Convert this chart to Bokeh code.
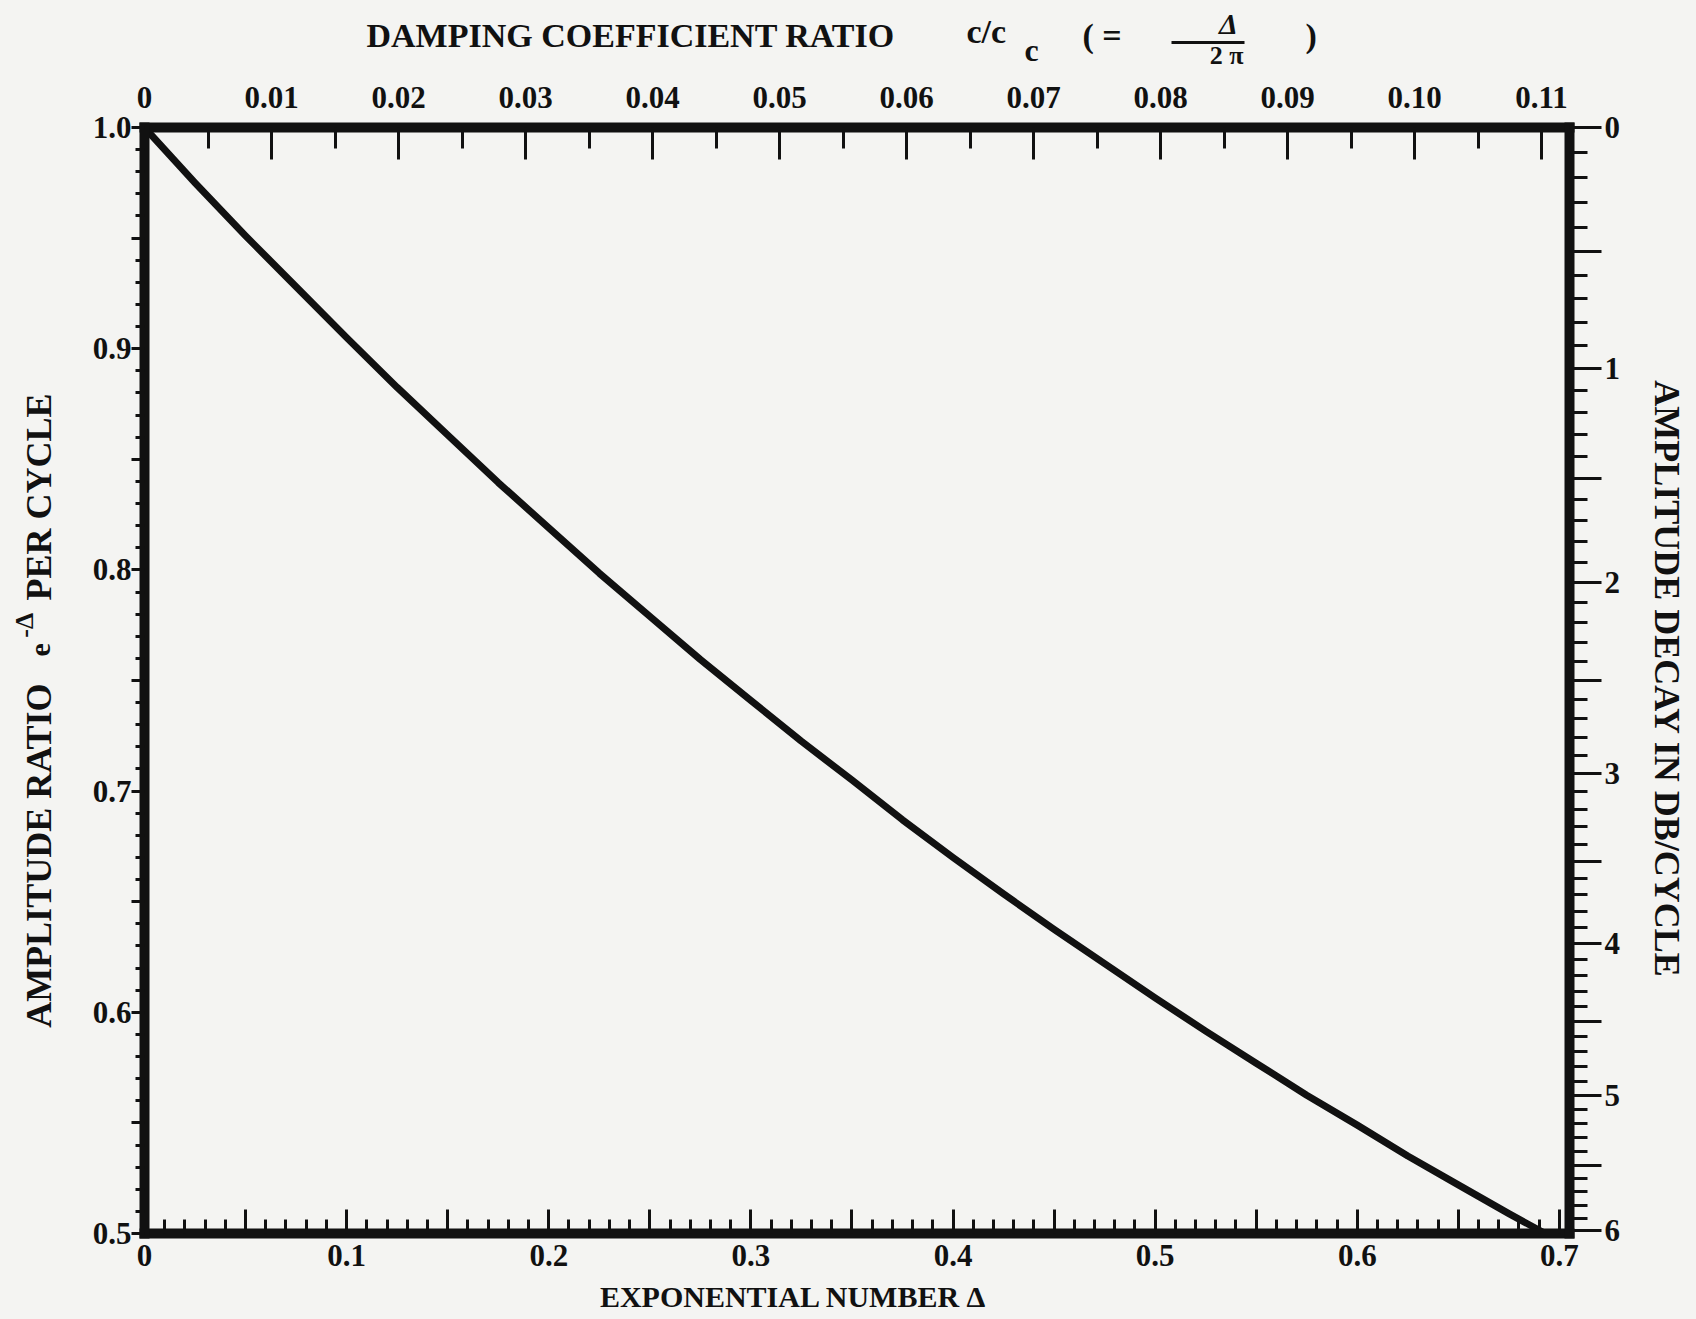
import math
from bokeh.plotting import figure
from bokeh.layouts import column, row
from bokeh.models import Range1d, LinearAxis, FixedTicker
from bokeh.core.properties import value
from bokeh.embed import file_html
from bokeh.resources import INLINE

# ---- data ----
delta = [0.0, 0.025, 0.05, 0.075, 0.10, 0.125, 0.15, 0.175, 0.20, 0.225, 0.25, 0.275,
         0.30, 0.325, 0.35, 0.375, 0.40, 0.425, 0.45, 0.475, 0.50, 0.525, 0.55, 0.575,
         0.60, 0.625, 0.65, 0.675, 0.693]
amp_ratio = [1.000, 0.975, 0.951, 0.928, 0.905, 0.8825, 0.861, 0.8395, 0.819, 0.7985, 0.779, 0.7595,
             0.741, 0.7225, 0.705, 0.687, 0.670, 0.6535, 0.6375, 0.622, 0.6065, 0.5915, 0.577, 0.5625,
             0.549, 0.535, 0.522, 0.509, 0.500]

bottom_tick_values = [0.0, 0.1, 0.2, 0.3, 0.4, 0.5, 0.6, 0.7]
bottom_tick_labels = ["0", "0.1", "0.2", "0.3", "0.4", "0.5", "0.6", "0.7"]
top_tick_values = [0.0, 0.01, 0.02, 0.03, 0.04, 0.05, 0.06, 0.07, 0.08, 0.09, 0.10, 0.11]
top_tick_labels = ["0", "0.01", "0.02", "0.03", "0.04", "0.05", "0.06", "0.07", "0.08", "0.09", "0.10", "0.11"]
left_tick_values = [0.5, 0.6, 0.7, 0.8, 0.9, 1.0]
left_tick_labels = ["0.5", "0.6", "0.7", "0.8", "0.9", "1.0"]
right_db_values = [0, 1, 2, 3, 4, 5, 6]
right_db_labels = ["0", "1", "2", "3", "4", "5", "6"]

# ---- page geometry (canvas pixels) ----
W, H = 1696, 1319
TOP_H = 70
BOT_Y0 = 1279
MID_H = BOT_Y0 - TOP_H
BOT_H = H - BOT_Y0
LW, RW = 76, 62
MAIN_W = W - LW - RW
FL, FR, FT, FB = 144, 1569, 127, 1233    # frame edges on the canvas
X_END = 0.705

INK = "#111111"
PAPER = "#f4f4f2"
SERIF = "Liberation Serif"

# ---- main plot ----
p = figure(width=MAIN_W, height=MID_H, output_backend="svg", toolbar_location=None,
           x_range=Range1d(0, X_END), y_range=Range1d(0.5, 1.0),
           min_border_left=FL - LW, min_border_right=(W - RW) - FR,
           min_border_top=FT - TOP_H, min_border_bottom=BOT_Y0 - FB,
           background_fill_color=PAPER, border_fill_color=PAPER,
           x_axis_location=None, y_axis_location=None, outline_line_color=None)
p.xgrid.visible = False
p.ygrid.visible = False
p.extra_x_ranges = {"cc": Range1d(0, X_END / (2 * math.pi))}


def style(ax, size="31px"):
    ax.axis_line_color = INK
    ax.axis_line_width = 10
    ax.axis_line_cap = "square"
    ax.major_tick_line_color = INK
    ax.minor_tick_line_color = INK
    ax.major_tick_line_width = 3
    ax.minor_tick_line_width = 3
    ax.major_label_text_font = SERIF
    ax.major_label_text_font_style = "bold"
    ax.major_label_text_font_size = size
    ax.major_label_text_color = INK
    ax.major_label_orientation = "horizontal"


# bottom axis: exponential number
b_major = [round(i * 0.05, 2) for i in range(15)]
b_minor = [round(i * 0.01, 2) for i in range(71)]
b_over = {t: "" for t in b_major}
for v, s in zip(bottom_tick_values, bottom_tick_labels):
    b_over[round(v, 2)] = s
bax = LinearAxis(ticker=FixedTicker(ticks=b_major, minor_ticks=b_minor),
                 major_label_overrides=b_over)
style(bax)
bax.major_tick_in, bax.major_tick_out = 24, 0
bax.minor_tick_in, bax.minor_tick_out = 14, 0
bax.major_label_standoff = 11
p.add_layout(bax, "below")

# top axis: damping coefficient ratio c/cc = delta / 2 pi
t_major = [round(v, 3) for v in top_tick_values]
t_minor = [round(i * 0.005, 3) for i in range(23)]
tax = LinearAxis(x_range_name="cc", ticker=FixedTicker(ticks=t_major, minor_ticks=t_minor),
                 major_label_overrides={round(v, 3): s for v, s in zip(top_tick_values, top_tick_labels)})
style(tax)
tax.major_tick_in, tax.major_tick_out = 32, 0
tax.minor_tick_in, tax.minor_tick_out = 21, 0
tax.major_label_standoff = 20
p.add_layout(tax, "above")

# left axis: amplitude ratio
l_major = [round(0.5 + i * 0.05, 2) for i in range(11)]
l_minor = [round(0.5 + i * 0.01, 2) for i in range(51)]
l_over = {t: "" for t in l_major}
for v, s in zip(left_tick_values, left_tick_labels):
    l_over[round(v, 2)] = s
lax = LinearAxis(ticker=FixedTicker(ticks=l_major, minor_ticks=l_minor),
                 major_label_overrides=l_over)
style(lax)
lax.major_tick_in, lax.major_tick_out = 0, 13
lax.minor_tick_in, lax.minor_tick_out = 0, 9
lax.major_label_standoff = 0
p.add_layout(lax, "left")


# right axis: amplitude decay in dB per cycle (ratio = 10^(-dB/20))
def db_to_ratio(d):
    return 10 ** (-d / 20.0)


r_major = [db_to_ratio(i * 0.5) for i in range(13)]
r_minor = [db_to_ratio(round(i * 0.1, 1)) for i in range(61)]
r_over = {t: "" for t in r_major}
for d, s in zip(right_db_values, right_db_labels):
    r_over[db_to_ratio(d * 1.0)] = s
rax = LinearAxis(ticker=FixedTicker(ticks=r_major, minor_ticks=r_minor),
                 major_label_overrides=r_over)
style(rax)
rax.major_tick_in, rax.major_tick_out = 0, 32
rax.minor_tick_in, rax.minor_tick_out = 0, 18
rax.major_label_standoff = 3
p.add_layout(rax, "right")

# the curve
p.line(delta, amp_ratio, line_color=INK, line_width=7, line_join="round", line_cap="round")


# ---- text panels around the plot ----
def aux(w, h):
    f = figure(width=w, height=h, x_range=Range1d(0, w), y_range=Range1d(0, h),
               min_border=0, toolbar_location=None, output_backend="svg",
               background_fill_color=PAPER, border_fill_color=PAPER,
               x_axis_location=None, y_axis_location=None, outline_line_color=None)
    f.xgrid.visible = False
    f.ygrid.visible = False
    return f


top = aux(W, TOP_H)
left = aux(LW, MID_H)
right = aux(RW, MID_H)
bottom = aux(W, BOT_H)


def put(f, x0, y0, h, text, x, y, size, align="left", angle=0.0, fstyle="bold"):
    # x, y are canvas pixel positions; (x0, y0) is the panel's top-left corner on the canvas
    f.text(x=[x - x0], y=[y0 + h - y], text=[text], text_font=value(SERIF),
           text_font_style=fstyle, text_font_size=size, text_color=INK,
           text_align=align, text_baseline="middle", angle=angle)


# top title: DAMPING COEFFICIENT RATIO  c/c_c  ( = delta / 2 pi )
put(top, 0, 0, TOP_H, "DAMPING COEFFICIENT RATIO", 366, 35, "34px")
put(top, 0, 0, TOP_H, "c/c", 966, 31, "34px")
put(top, 0, 0, TOP_H, "c", 1024, 49, "32px")
put(top, 0, 0, TOP_H, "( =", 1082, 35, "34px")
put(top, 0, 0, TOP_H, "Δ", 1228, 23, "30px", align="center", fstyle="bold italic")
put(top, 0, 0, TOP_H, "2 π", 1226, 55, "26px", align="center")
put(top, 0, 0, TOP_H, ")", 1305, 35, "34px")
top.segment(x0=[1171], y0=[TOP_H - 42], x1=[1244], y1=[TOP_H - 42], line_color=INK, line_width=3)

# bottom title
put(bottom, 0, BOT_Y0, BOT_H, "EXPONENTIAL NUMBER Δ", 793, 1296, "30px", align="center")

# left title (reads bottom to top)
put(left, 0, TOP_H, MID_H, "AMPLITUDE RATIO", 38, 866, "36px", align="center", angle=math.pi / 2)
put(left, 0, TOP_H, MID_H, "e", 40, 641, "30px", align="center", angle=math.pi / 2)
put(left, 0, TOP_H, MID_H, "-Δ", 24, 614, "26px", align="center", angle=math.pi / 2)
put(left, 0, TOP_H, MID_H, "PER CYCLE", 38, 474, "36px", align="center", angle=math.pi / 2)

# right title (reads top to bottom)
put(right, W - RW, TOP_H, MID_H, "AMPLITUDE DECAY IN DB/CYCLE", 1666, 673, "36px",
    align="center", angle=-math.pi / 2)

layout = column(top, row(left, p, right), bottom)
html = file_html(layout, INLINE)
html = html.replace("<head>", "<head><style>html, body { background: #f4f4f2; margin: 0; }</style>", 1)
open("out.html", "w").write(html)
